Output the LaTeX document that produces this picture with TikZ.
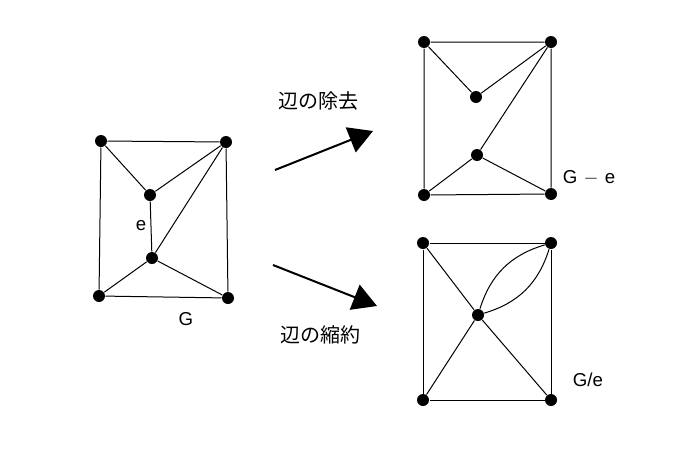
\documentclass[tikz,border=0pt]{standalone}
\usepackage{fontspec}
\setmainfont{Liberation Sans}
\newfontfamily\jpfont{Noto Sans CJK JP}
\usetikzlibrary{arrows.meta}
\tikzset{
  vtx/.style={circle, fill=black, inner sep=0pt, minimum size=9pt},
  lbl/.style={font=\fontsize{14pt}{16pt}\selectfont},
  jlbl/.style={font=\jpfont\fontsize{15pt}{17pt}\selectfont},
  bigarrow/.style={line width=1.5pt, -{Triangle[length=18pt,width=20pt]}}
}
\begin{document}
\begin{tikzpicture}[x=0.75pt, y=-0.75pt, line width=0.75pt]
\useasboundingbox (0,0) rectangle (700,450);
% graph G
\node[vtx] (A1) at (101,141) {};
\node[vtx] (A2) at (226,142) {};
\node[vtx] (A3) at (99,296)  {};
\node[vtx] (A4) at (228,298) {};
\node[vtx] (A5) at (150,195) {};
\node[vtx] (A6) at (152,258) {};
\draw (A1) -- (A2) -- (A4) -- (A3) -- (A1);
\draw (A1) -- (A5) -- (A2);
\draw (A5) -- (A6);
\draw (A2) -- (A6);
\draw (A3) -- (A6) -- (A4);
\node[lbl] (Le) at (141,226) {e};
\node[lbl] (LG) at (186,319) {G};
% graph G - e
\node[vtx] (B1) at (424,42)  {};
\node[vtx] (B2) at (551,42)  {};
\node[vtx] (B3) at (424,195) {};
\node[vtx] (B4) at (551,194) {};
\node[vtx] (B5) at (476,97)  {};
\node[vtx] (B6) at (477,155) {};
\draw (B1) -- (B2) -- (B4) -- (B3) -- (B1);
\draw (B1) -- (B5) -- (B2);
\draw (B2) -- (B6);
\draw (B3) -- (B6) -- (B4);
\node[lbl] (LGe) at (589,178) {G\,\,$-$\,\,e};
% graph G/e
\node[vtx] (C1) at (423,243) {};
\node[vtx] (C2) at (551,243) {};
\node[vtx] (C3) at (423,400) {};
\node[vtx] (C4) at (551,400) {};
\node[vtx] (C5) at (478,315) {};
\draw (C1) -- (C2) -- (C4) -- (C3) -- (C1);
\draw (C1) -- (C5) -- (C4);
\draw (C3) -- (C5);
\draw (C5) to[bend left=28] (C2);
\draw (C5) to[bend right=28] (C2);
\node[lbl] (LGc) at (588,380) {G/e};
% operations
\coordinate (S1) at (275,170);
\coordinate (T1) at (373,131);
\coordinate (S2) at (273,265);
\coordinate (T2) at (377,306);
\draw[bigarrow] (S1) -- (T1);
\draw[bigarrow] (S2) -- (T2);
\node[jlbl] (Ldel) at (318,101) {辺の除去};
\node[jlbl] (Lcon) at (320,335) {辺の縮約};
\end{tikzpicture}
\end{document}
